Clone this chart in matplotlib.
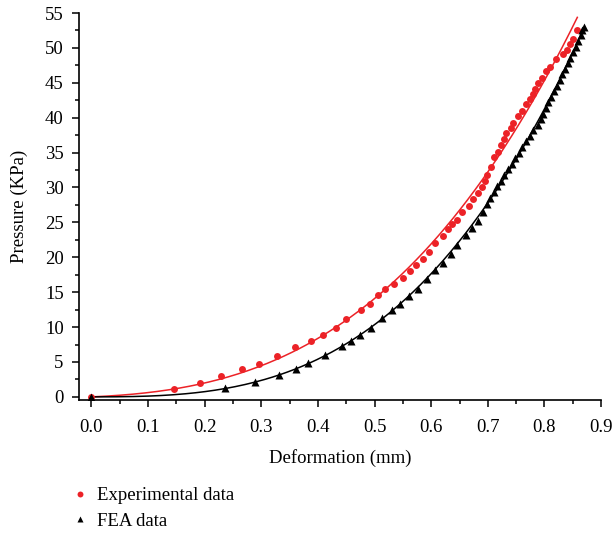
import numpy as np
import matplotlib.pyplot as plt

plt.rcParams['font.family'] = ['Liberation Serif', 'DejaVu Serif']

# experimental data (red dots)
exp_x = [0.0, 0.146, 0.192, 0.229, 0.266, 0.295, 0.327, 0.359, 0.388, 0.408, 0.431,
         0.450, 0.476, 0.491, 0.506, 0.518, 0.535, 0.550, 0.562, 0.573, 0.586,
         0.596, 0.607, 0.620, 0.629, 0.637, 0.645, 0.655, 0.666, 0.673, 0.682,
         0.689, 0.695, 0.699, 0.705, 0.711, 0.718, 0.723, 0.728, 0.732, 0.740,
         0.745, 0.754, 0.760, 0.768, 0.774, 0.780, 0.784, 0.789, 0.796, 0.803,
         0.809, 0.820, 0.833, 0.840, 0.845, 0.850, 0.858]
exp_y = [0.0, 1.19, 2.05, 3.05, 3.97, 4.73, 5.87, 7.2, 8.02, 8.93, 9.93,
         11.17, 12.46, 13.3, 14.57, 15.4, 16.2, 17.1, 18.0, 18.87, 19.7,
         20.7, 22.1, 23.07, 24.0, 24.8, 25.4, 26.5, 27.4, 28.4, 29.2,
         30.0, 30.9, 31.8, 33.0, 34.3, 35.1, 36.05, 36.9, 37.8, 38.5,
         39.3, 40.2, 41.0, 41.9, 42.7, 43.4, 44.1, 44.9, 45.7, 46.7,
         47.3, 48.4, 49.1, 49.7, 50.6, 51.3, 52.6]

# FEA data (black triangles)
fea_x = [0.0, 0.235, 0.289, 0.331, 0.362, 0.382, 0.413, 0.443, 0.458, 0.475,
         0.493, 0.513, 0.531, 0.545, 0.561, 0.577, 0.592, 0.607, 0.621, 0.635,
         0.646, 0.661, 0.672, 0.682, 0.691, 0.699, 0.703, 0.710, 0.716, 0.723,
         0.729, 0.735, 0.742, 0.748, 0.755, 0.761, 0.767, 0.774, 0.780, 0.788,
         0.793, 0.798, 0.803, 0.807, 0.812, 0.817, 0.822, 0.827, 0.831, 0.836,
         0.841, 0.845, 0.850, 0.855, 0.859, 0.864, 0.867, 0.870]
fea_y = [0.0, 1.25, 2.15, 3.2, 4.06, 4.83, 5.97, 7.35, 8.07, 8.9,
         9.93, 11.27, 12.46, 13.37, 14.47, 15.5, 16.95, 18.2, 19.24, 20.44,
         21.8, 23.16, 24.2, 25.2, 26.5, 27.7, 28.5, 29.4, 30.2, 31.0,
         31.8, 32.6, 33.4, 34.2, 35.0, 35.8, 36.6, 37.4, 38.2, 39.0,
         39.8, 40.6, 41.4, 42.2, 43.0, 43.8, 44.6, 45.4, 46.2, 47.0,
         47.8, 48.6, 49.4, 50.2, 51.0, 51.8, 52.5, 53.0]

red = '#ec2227'


def origin_fit(x, y, powers):
    # least squares polynomial forced through the origin
    x = np.asarray(x)
    A = np.column_stack([x ** p for p in powers])
    c = np.linalg.lstsq(A, np.asarray(y), rcond=None)[0]
    return lambda t: sum(ci * t ** p for ci, p in zip(c, powers))


fig = plt.figure(figsize=(6.14, 5.35), dpi=100)
ax = fig.add_axes([0.1287, 0.2523, 0.8503, 0.7234])

f_exp = origin_fit(exp_x, exp_y, [1, 2, 3])
xs = np.linspace(0, 0.858, 200)
ax.plot(xs, f_exp(xs), color=red, lw=1.1, zorder=2)
f_fea = origin_fit(fea_x, fea_y, [2, 3, 4])
xs2 = np.linspace(0, 0.870, 200)
ax.plot(xs2, f_fea(xs2), color='black', lw=1.1, zorder=2)

ax.plot(exp_x, exp_y, 'o', color=red, ms=5, mec='none', label='Experimental data', zorder=3)
ax.plot(fea_x, fea_y, '^', color='black', ms=5.5, mec='none', label='FEA data', zorder=3)

ax.set_xlim(-0.022, 0.9)
ax.set_ylim(-0.45, 55)
ax.set_xticks(np.arange(0, 0.91, 0.1))
ax.set_xticks(np.arange(0.05, 0.9, 0.1), minor=True)
ax.set_yticks(np.arange(0, 56, 5))
ax.set_yticks(np.arange(2.5, 55, 5), minor=True)
ax.xaxis.set_major_formatter(plt.FuncFormatter(lambda v, p: '%.1f' % v))
ax.spines['top'].set_visible(False)
ax.spines['right'].set_visible(False)
for s in ['left', 'bottom']:
    ax.spines[s].set_linewidth(1.2)
ax.tick_params(which='major', direction='out', length=5, width=1.1, labelsize=13.5)
ax.tick_params(axis='x', which='major', pad=9)
ax.tick_params(axis='y', which='major', pad=6)
ax.tick_params(which='minor', direction='out', length=3, width=1.1)

ax.set_xlabel('Deformation (mm)', fontsize=13.5, labelpad=9)
ax.set_ylabel('Pressure (KPa)', fontsize=13.5, labelpad=12)

fig.legend(loc='upper left', bbox_to_anchor=(0.10, 0.107), frameon=False,
           fontsize=13.5, handlelength=1.0, handletextpad=0.4, labelspacing=0.45,
           borderpad=0, markerscale=0.85)

fig.savefig('out.png', dpi=100)
